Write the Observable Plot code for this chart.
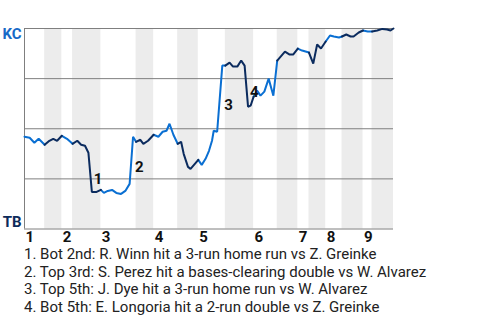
<!DOCTYPE html>
<html><head><meta charset="utf-8">
<script src="https://cdn.jsdelivr.net/npm/d3@7"></script>
<script src="https://cdn.jsdelivr.net/npm/@observablehq/plot@0.6"></script>
<style>
body{margin:0;background:#fff;font-family:Roboto,sans-serif;}
#legend{padding-left:24px;font-size:15px;line-height:17.6px;color:#222;white-space:nowrap;}
</style></head><body>
<div id="chart"></div>
<div id="legend"></div>
<script>
// play number (x) for each plate appearance
const plays = [0,1.2,2.3,3.3,4.7,5.8,6.7,7.6,8.7,9.9,11.2,12.3,13.2,14.1,14.9,15.7,16.8,17.8,18.5,19.4,20.4,21.4,22.5,23.5,24.5,25.3,26.0,27.0,27.7,28.8,30.1,31.2,32.2,33.1,33.8,34.7,35.7,36.5,37.1,38.1,38.7,39.7,40.5,41.3,42.2,43.0,43.7,44.1,44.9,46.1,46.8,47.8,48.6,49.6,50.5,51.3,52.1,52.7,53.4,54.2,55.0,55.9,56.9,58.0,58.9,59.7,60.7,61.8,62.6,63.7,64.7,65.5,66.3,67.3,68.2,69.1,70.2,71.2,72.1,73.3,74.0,75.0,76.0,76.7,77.9,78.9,80.0,81.0,82.2,83.4,84.5,85.3,86];
// KC win probability after each play
const kcWinProb = [0.46,0.455,0.43,0.45,0.42,0.44,0.45,0.44,0.465,0.45,0.425,0.44,0.42,0.415,0.38,0.185,0.185,0.195,0.18,0.19,0.195,0.18,0.175,0.19,0.225,0.46,0.435,0.445,0.425,0.44,0.47,0.46,0.485,0.49,0.525,0.47,0.425,0.435,0.375,0.31,0.30,0.325,0.345,0.32,0.35,0.39,0.44,0.49,0.485,0.815,0.815,0.83,0.81,0.81,0.84,0.815,0.61,0.615,0.66,0.69,0.665,0.685,0.75,0.665,0.84,0.86,0.885,0.87,0.87,0.90,0.89,0.885,0.88,0.825,0.92,0.90,0.935,0.965,0.96,0.955,0.96,0.97,0.96,0.96,0.98,0.99,0.985,0.985,0.99,0.998,0.995,0.99,1.0];
// index of the play where each half-inning starts (last = end of game)
const halfBoundaries = [0,4,8,10,17,26,30,36,42,50,58,64,69,72,76,80,85,87,92];
const inningLabels = ["1","2","3","4","5","6","7","8","9"];
const teamTop = "KC";
const teamBottom = "TB";
// key plays: index of the play and description
const eventPlayIdx = [15,25,49,56];
const eventTexts = [
  "Bot 2nd: R. Winn hit a 3-run home run vs Z. Greinke",
  "Top 3rd: S. Perez hit a bases-clearing double vs W. Alvarez",
  "Top 5th: J. Dye hit a 3-run home run vs W. Alvarez",
  "Bot 5th: E. Longoria hit a 2-run double vs Z. Greinke"
];

const BLUE = "#0a6fd2", NAVY = "#0b2b5e", GRID = "#7f7f7f";
const rows = plays.map((x, i) => ({x, wp: kcWinProb[i], i}));
const halves = d3.range(halfBoundaries.length - 1).map(h => ({
  h, top: h % 2 === 0, x1: plays[halfBoundaries[h]], x2: plays[halfBoundaries[h + 1]]
}));
const segs = halves.flatMap(hf => d3.range(halfBoundaries[hf.h], halfBoundaries[hf.h + 1] + 1)
  .map(i => ({...rows[i], h: hf.h, top: hf.top})));
const innings = halves.filter(d => d.top).map((d, k) => ({x: d.x1, label: inningLabels[k]}));
const events = eventPlayIdx.map((i, k) => ({x: plays[i], y: (kcWinProb[i - 1] + kcWinProb[i]) / 2, label: String(k + 1)}));

const chart = Plot.plot({
  width: 480, height: 246,
  marginTop: 28, marginBottom: 17.5, marginLeft: 24, marginRight: 87,
  x: {domain: [0, d3.max(plays)], axis: null},
  y: {domain: [0, 1], axis: null},
  style: {fontFamily: "Roboto", fontSize: "15px", background: "#fff", overflow: "visible"},
  marks: [
    Plot.rect(halves.filter(d => !d.top), {x1: "x1", x2: "x2", fill: "#ececec"}),
    Plot.ruleY([0.25, 0.5, 0.75, 1], {stroke: GRID, strokeWidth: 1}),
    Plot.ruleY([0], {stroke: GRID}),
    Plot.ruleX([0], {stroke: GRID}),
    Plot.line(segs.filter(d => d.top), {x: "x", y: "wp", z: "h", stroke: BLUE, strokeWidth: 2, strokeLinejoin: "miter"}),
    Plot.line(segs.filter(d => !d.top), {x: "x", y: "wp", z: "h", stroke: NAVY, strokeWidth: 2, strokeLinejoin: "miter"}),
    Plot.text(events, {x: "x", y: "y", text: "label", textAnchor: "start", dx: 2, dy: 6.5, fontWeight: "bold", fill: "#111"}),
    Plot.text(innings, {x: "x", y: () => 0, text: "label", textAnchor: "start", dx: 1, dy: 8.5, fontWeight: "bold", fill: "#111"}),
    Plot.text([teamTop], {x: () => 0, y: () => 1, text: d => d, textAnchor: "end", dx: -3, dy: 5.5, fontWeight: "bold", fill: "#1769c7"}),
    Plot.text([teamBottom], {x: () => 0, y: () => 0, text: d => d, textAnchor: "end", dx: -3, dy: -7, fontWeight: "bold", fill: "#0d2b5a"})
  ]
});
document.getElementById("chart").appendChild(chart);
const legend = document.getElementById("legend");
eventTexts.forEach((t, k) => {
  const div = document.createElement("div");
  div.textContent = `${k + 1}. ${t}`;
  legend.appendChild(div);
});
</script></body></html>
